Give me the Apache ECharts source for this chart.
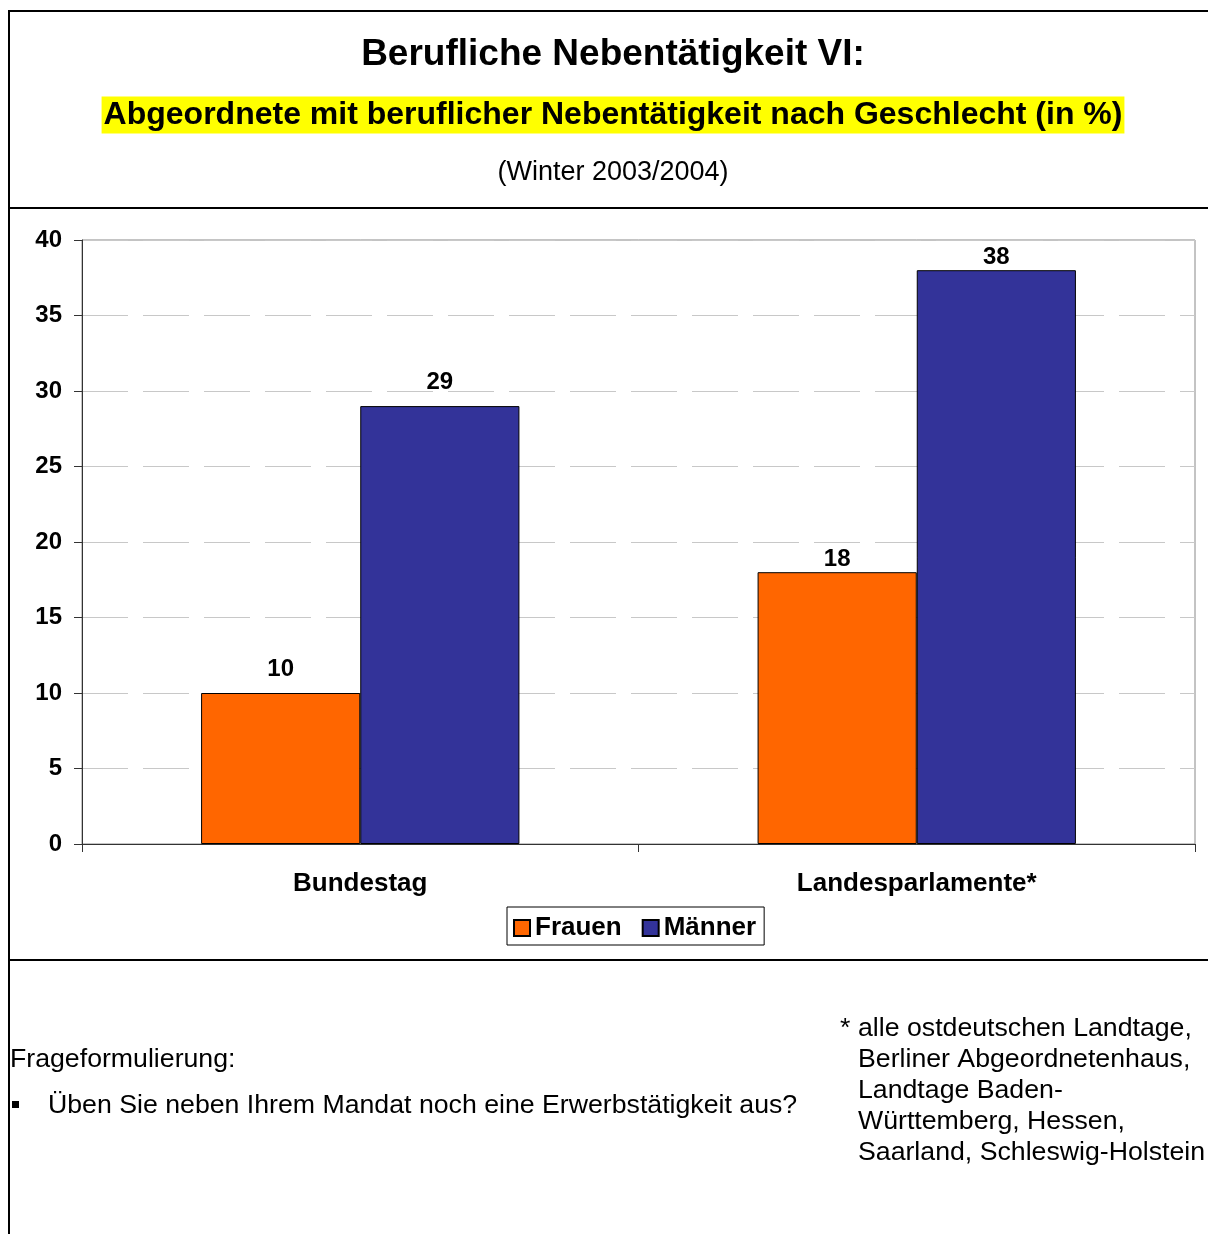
<!DOCTYPE html>
<html>
<head>
<meta charset="utf-8">
<script src="https://cdn.jsdelivr.net/npm/echarts@6/dist/echarts.min.js"></script>
<style>
  html, body { margin: 0; padding: 0; background: #fff; }
  #chart { width: 1208px; height: 1234px; }
</style>
</head>
<body>
<div id="chart"></div>
<script>
// data
const categories = ["Bundestag", "Landesparlamente*"];
const frauen = [10, 18];
const maenner = [29, 38];
const seriesNames = ["Frauen", "Männer"];

const font = "'Liberation Sans', Arial, sans-serif";
// label offsets above bars (Excel put them a bit unevenly)
const labelGap = [12, 1];

const myChart = echarts.init(document.getElementById("chart"));

function barData(values) {
  return values.map(function(v, i) {
    return { value: v, label: { distance: labelGap[i] } };
  });
}

const barLabel = {
  show: true,
  position: "top",
  fontSize: 24,
  fontWeight: "bold",
  color: "#000",
  fontFamily: font
};

let option = {
  backgroundColor: "#fff",
  textStyle: { fontFamily: font },
  animation: false,
  legend: {
    data: seriesNames,
    left: 507,
    top: 907,
    orient: "horizontal",
    icon: "rect",
    borderColor: "#000",
    borderWidth: 1,
    padding: [8, 8, 4, 6],
    itemWidth: 16,
    itemHeight: 16,
    itemGap: 20,
    textStyle: { fontSize: 26, fontWeight: "bold", color: "#000", fontFamily: font }
  },
  grid: {
    left: 82,
    right: 13,
    top: 240,
    bottom: 390,
    show: true,
    borderColor: "#888",
    borderWidth: 1,
    containLabel: false
  },
  xAxis: {
    type: "category",
    data: categories,
    axisLine: { lineStyle: { color: "#333", width: 1 } },
    axisTick: { show: true, length: 8, lineStyle: { color: "#333" } },
    axisLabel: {
      margin: 27,
      fontSize: 26,
      fontWeight: "bold",
      color: "#000",
      fontFamily: font
    }
  },
  yAxis: {
    type: "value",
    min: 0,
    max: 40,
    interval: 5,
    axisLine: { show: true, lineStyle: { color: "#333", width: 1 } },
    axisTick: { show: true, length: 8, lineStyle: { color: "#333" } },
    splitLine: { show: true, lineStyle: { color: "#c8c8c8", type: [46, 15], width: 1 } },
    axisLabel: {
      margin: 20,
      fontSize: 24,
      fontWeight: "bold",
      color: "#000",
      fontFamily: font
    }
  },
  series: [
    {
      name: seriesNames[0],
      type: "bar",
      data: barData(frauen),
      barGap: "0%",
      barCategoryGap: "42.8%",
      itemStyle: { color: "#ff6600", borderColor: "#000", borderWidth: 1 },
      label: barLabel
    },
    {
      name: seriesNames[1],
      type: "bar",
      data: barData(maenner),
      barGap: "0%",
      barCategoryGap: "42.8%",
      itemStyle: { color: "#333399", borderColor: "#000", borderWidth: 1 },
      label: barLabel
    }
  ],
  graphic: [
    // frame
    { type: "line", shape: { x1: 9, y1: 10, x2: 9, y2: 1234 }, style: { stroke: "#000", lineWidth: 2 } },
    { type: "line", shape: { x1: 8, y1: 11, x2: 1208, y2: 11 }, style: { stroke: "#000", lineWidth: 2 } },
    { type: "line", shape: { x1: 8, y1: 208, x2: 1208, y2: 208 }, style: { stroke: "#000", lineWidth: 2 } },
    { type: "line", shape: { x1: 8, y1: 960, x2: 1208, y2: 960 }, style: { stroke: "#000", lineWidth: 2 } },
    // titles
    {
      type: "text",
      x: 613,
      y: 55,
      style: {
        text: "Berufliche Nebentätigkeit VI:",
        font: "bold 37px " + font,
        fill: "#000",
        align: "center",
        verticalAlign: "middle"
      }
    },
    {
      type: "text",
      x: 613,
      y: 115,
      style: {
        text: "Abgeordnete mit beruflicher Nebentätigkeit nach Geschlecht (in %)",
        font: "bold 32px " + font,
        fill: "#000",
        align: "center",
        verticalAlign: "middle",
        backgroundColor: "#ffff00",
        padding: [3, 2, 2, 2]
      }
    },
    {
      type: "text",
      x: 613,
      y: 173,
      style: {
        text: "(Winter 2003/2004)",
        font: "27px " + font,
        fill: "#000",
        align: "center",
        verticalAlign: "middle"
      }
    },
    // question
    {
      type: "text",
      x: 10,
      y: 1060,
      style: { text: "Frageformulierung:", font: "26.7px " + font, fill: "#000", verticalAlign: "middle" }
    },
    { type: "rect", shape: { x: 12, y: 1101, width: 7, height: 7 }, style: { fill: "#000" } },
    {
      type: "text",
      x: 48,
      y: 1106,
      style: {
        text: "Üben Sie neben Ihrem Mandat noch eine Erwerbstätigkeit aus?",
        font: "26.7px " + font,
        fill: "#000",
        verticalAlign: "middle"
      }
    },
    // footnote
    {
      type: "text",
      x: 840,
      y: 1029,
      style: { text: "*", font: "26.7px " + font, fill: "#000", verticalAlign: "middle" }
    },
    {
      type: "text",
      x: 858,
      y: 1013,
      style: {
        text: "alle ostdeutschen Landtage,\nBerliner Abgeordnetenhaus,\nLandtage Baden-\nWürttemberg, Hessen,\nSaarland, Schleswig-Holstein",
        font: "26.7px " + font,
        lineHeight: 31,
        fill: "#000"
      }
    }
  ]
};

myChart.setOption(option, true);
</script>
</body>
</html>
